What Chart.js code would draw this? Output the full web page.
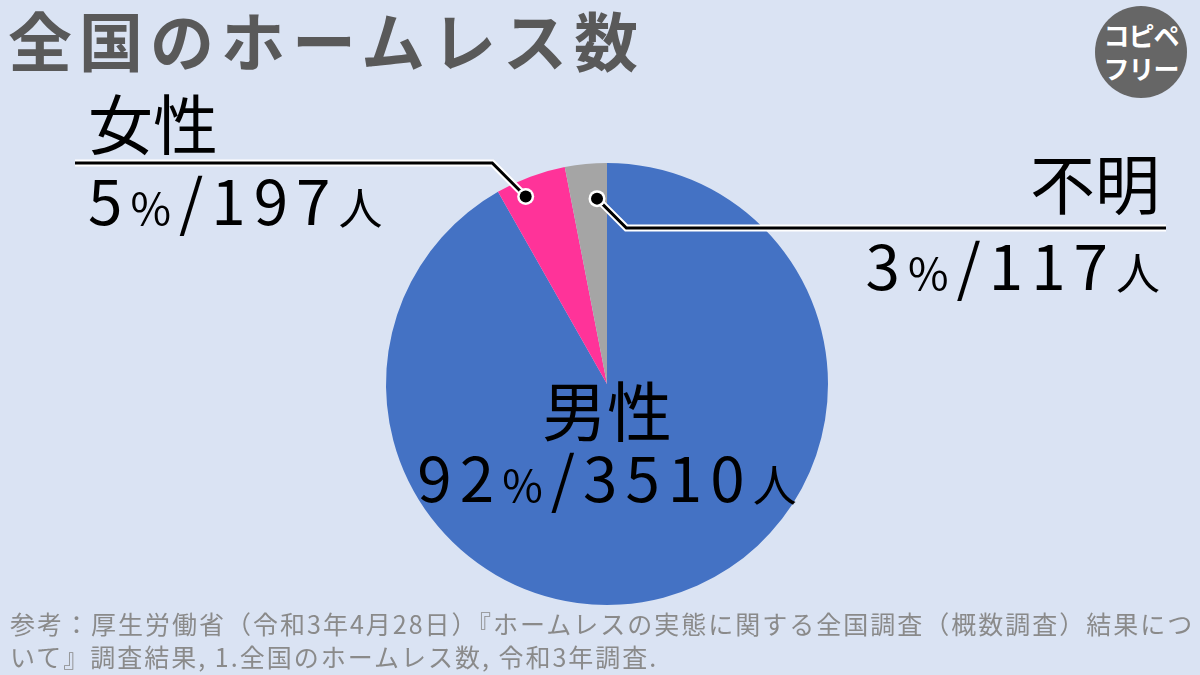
<!DOCTYPE html>
<html lang="ja">
<head>
<meta charset="utf-8">
<script src="https://cdn.jsdelivr.net/npm/chart.js@4.4.1/dist/chart.umd.min.js"></script>
<style>
  html, body { margin: 0; padding: 0; }
  body { width: 1200px; height: 675px; background: #dae3f3; position: relative; overflow: hidden;
         font-family: "Noto Sans CJK JP", "Noto Sans", sans-serif; }
  #pieChart { position: absolute; left: 0; top: 0; }
  .title { position: absolute; left: 8px; top: 3px; font-size: 64px; line-height: 70px; font-weight: bold;
           color: #595959; letter-spacing: 7px; white-space: nowrap; }
  .badge { position: absolute; left: 1095px; top: 6px; width: 92px; height: 92px; border-radius: 50%;
           background: #666666; color: #fff; font-weight: bold; font-size: 26px; line-height: 33px;
           text-align: center; padding-top: 12px; box-sizing: border-box; letter-spacing: -1px; }
  .source { position: absolute; left: 10px; top: 607px; font-size: 25px; line-height: 33px; color: #8a8a8a;
            white-space: nowrap; letter-spacing: 2px; }
</style>
</head>
<body>
<div class="title">全国のホームレス数</div>
<div class="badge">コピペ<br>フリー</div>
<canvas id="pieChart" width="1200" height="675"></canvas>
<div class="source">参考：厚生労働省（令和3年4月28日）『ホームレスの実態に関する全国調査（概数調査）結果につ<br>いて』調査結果, 1.全国のホームレス数, 令和3年調査.</div>

<script>
// Data
const categories = ['男性', '女性', '不明'];
const counts = [3510, 197, 117];
const percents = [92, 5, 3];
const sliceColors = ['#4472c4', '#ff3399', '#a5a5a5'];

const FONT = '"Noto Sans CJK JP", "Noto Sans", sans-serif';

// how each label is placed: inside the slice, or with a leader line to the left / right
const labelStyle = [
    { mode: 'inside', nameDy: 52, valueDy: 118 },
    { mode: 'left', frac: 0.33, rad: 0.925, lineY: 163, lineEnd: 75, textX: 88, nameY: 149, valueY: 225 },
    { mode: 'right', frac: 0.72, rad: 0.84, lineY: 228, lineEnd: 1166, textX: 1160, nameY: 209, valueY: 290 }
];

// draw "92%/3510人" with small % and 人
function drawValue(ctx, pct, count, x, y, align) {
    const runs = [
        { text: String(pct), size: 62 },
        { text: '%', size: 44 },
        { text: '/', size: 62 },
        { text: String(count), size: 62 },
        { text: '人', size: 44 }
    ];
    ctx.letterSpacing = '8px';
    const widths = runs.map(r => {
        ctx.font = r.size + 'px ' + FONT;
        return ctx.measureText(r.text).width;
    });
    const total = widths.reduce((a, b) => a + b, 0) - 8;
    let cx = align === 'left' ? x : (align === 'right' ? x - total : x - total / 2);
    ctx.textAlign = 'left';
    ctx.textBaseline = 'alphabetic';
    runs.forEach((r, i) => {
        ctx.font = r.size + 'px ' + FONT;
        ctx.fillText(r.text, cx, y);
        cx += widths[i];
    });
    ctx.letterSpacing = '0px';
}

function drawName(ctx, text, x, y, align) {
    ctx.font = '65px ' + FONT;
    ctx.textAlign = align;
    ctx.textBaseline = 'alphabetic';
    ctx.fillText(text, x, y);
}

const sliceLabels = {
    id: 'sliceLabels',
    afterDatasetsDraw(chart) {
        const ctx = chart.ctx;
        const meta = chart.getDatasetMeta(0);
        ctx.save();
        ctx.fillStyle = '#000';
        meta.data.forEach((arc, i) => {
            const st = labelStyle[i];
            if (st.mode === 'inside') {
                drawName(ctx, categories[i], arc.x, arc.y + st.nameDy, 'center');
                drawValue(ctx, percents[i], counts[i], arc.x, arc.y + st.valueDy, 'center');
                return;
            }
            const ang = arc.startAngle + st.frac * (arc.endAngle - arc.startAngle);
            const px = arc.x + Math.cos(ang) * arc.outerRadius * st.rad;
            const py = arc.y + Math.sin(ang) * arc.outerRadius * st.rad;
            const d = Math.abs(py - st.lineY);
            const ex = st.mode === 'left' ? px - d : px + d;

            // leader line with white halo
            const path = () => {
                ctx.beginPath();
                ctx.moveTo(px, py);
                ctx.lineTo(ex, st.lineY);
                ctx.lineTo(st.lineEnd, st.lineY);
            };
            ctx.lineJoin = 'miter';
            path();
            ctx.strokeStyle = '#ffffff';
            ctx.lineWidth = 7;
            ctx.stroke();
            path();
            ctx.strokeStyle = '#000000';
            ctx.lineWidth = 3;
            ctx.stroke();
            ctx.beginPath();
            ctx.arc(px, py, 8.5, 0, Math.PI * 2);
            ctx.fillStyle = '#ffffff';
            ctx.fill();
            ctx.beginPath();
            ctx.arc(px, py, 6, 0, Math.PI * 2);
            ctx.fillStyle = '#000000';
            ctx.fill();

            const align = st.mode === 'left' ? 'left' : 'right';
            drawName(ctx, categories[i], st.textX, st.nameY, align);
            drawValue(ctx, percents[i], counts[i], st.textX, st.valueY, align);
        });
        ctx.restore();
    }
};

const pieCtx = document.getElementById('pieChart');
new Chart(pieCtx, {
    type: 'pie',
    data: {
        labels: categories,
        datasets: [{
            data: counts,
            backgroundColor: sliceColors,
            borderWidth: 0
        }]
    },
    options: {
        responsive: false,
        animation: false,
        layout: {
            padding: { left: 386, right: 372, top: 163, bottom: 70 }
        },
        plugins: {
            legend: { display: false },
            tooltip: { enabled: false }
        }
    },
    plugins: [sliceLabels]
});
</script>
</body>
</html>
